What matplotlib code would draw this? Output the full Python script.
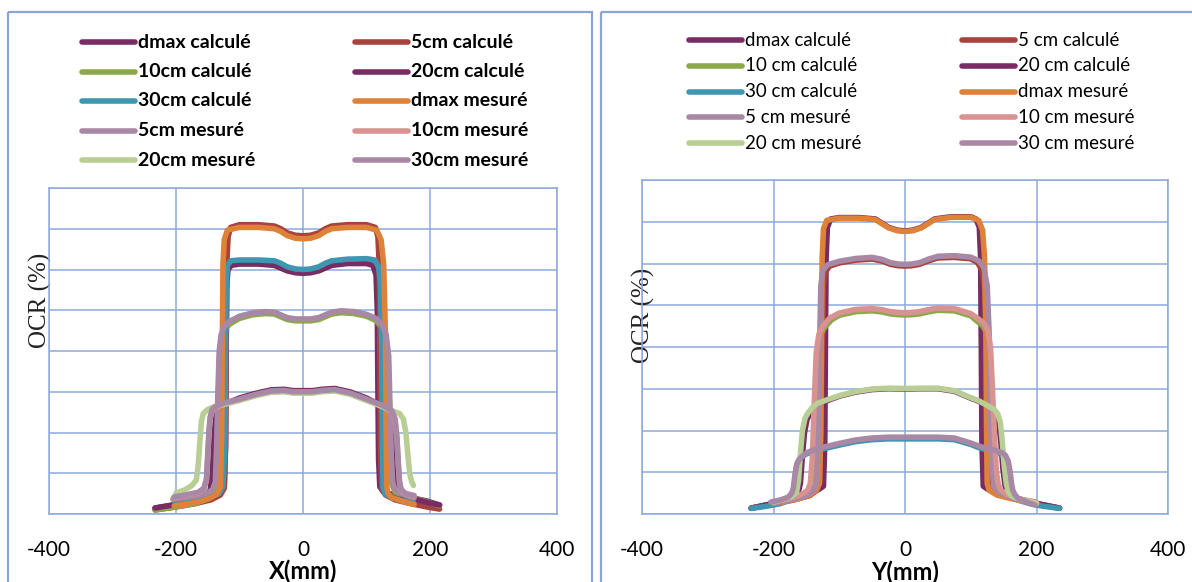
import matplotlib.pyplot as plt
from matplotlib.patches import Rectangle

plt.rcParams['font.family'] = ['Lato', 'DejaVu Sans']

# === Series labels and colours ===
labels_x = ['dmax calculé', '5cm calculé', '10cm calculé', '20cm calculé', '30cm calculé',
            'dmax mesuré', '5cm mesuré', '10cm mesuré', '20cm mesuré', '30cm mesuré']
labels_y = ['dmax calculé', '5 cm calculé', '10 cm calculé', '20 cm calculé', '30 cm calculé',
            'dmax mesuré', '5 cm mesuré', '10 cm mesuré', '20 cm mesuré', '30 cm mesuré']
colors = ['#772C63', '#A8423C', '#8BA84B', '#772C63', '#3E96B0',
          '#DE8139', '#A888A4', '#D89290', '#B8CE94', '#A888A4']

x_ticks = [-400, -200, 0, 200, 400]
y_grid = [0, 15, 30, 45, 60, 75, 90, 105, 120]

# === X profiles (left chart) : position (mm) / OCR (%) ===
lx_dmax_calc = [-233, -200, -170, -145, -130, -124, -122, -121, -120, -118, -113, -100, -70, -45, -35, -25, -12, 0, 12, 25,
                35, 45, 70, 100, 110, 115, 117, 118, 119, 121, 127, 145, 170, 195, 215]
lv_dmax_calc = [2.2, 3.5, 4.5, 6.0, 8.0, 10, 25, 60, 85, 90, 91.5, 92, 92, 91.5, 90.5, 89.5, 88.8, 88.6, 88.8, 89.5,
                90.5, 91.5, 92.2, 92.2, 91.5, 88, 75, 45, 20, 10, 8, 7, 6, 4.8, 3.3]

lx_5_calc = [-233, -200, -170, -145, -130, -124, -122, -121, -120, -118, -114, -100, -70, -45, -35, -25, -12, 0, 12, 25,
             35, 45, 70, 100, 114, 118, 120, 121, 122, 124, 130, 145, 170, 195, 215]
lv_5_calc = [1.5, 2.6, 3.8, 5.2, 7.0, 9.5, 25, 60, 92, 102, 105.5, 106.5, 106.5, 106, 105, 103.5, 102.6, 102.4, 102.6, 103.5,
             105, 106, 106.5, 106.5, 105.5, 102, 92, 60, 25, 9.5, 7.0, 5.2, 3.8, 2.6, 1.8]

lx_10_calc = [-233, -200, -170, -150, -140, -137, -135, -133, -131, -128, -123, -115, -100, -80, -60, -45, -35, -25, -12, 0,
              12, 25, 35, 45, 60, 80, 100, 115, 124, 130, 134, 136, 138, 140, 145, 170, 195, 215]
lv_10_calc = [1.5, 2.6, 3.9, 5.5, 7.5, 11, 25, 45, 60, 65, 68, 70, 72, 73.3, 73.8, 73.6, 72.6, 71.6, 71.1, 71.1,
              71.1, 71.6, 72.6, 73.6, 74.1, 73.8, 72.8, 71.2, 68.7, 65, 57, 40, 22, 11, 8, 6, 4.5, 3.0]

lx_20_calc = [-233, -200, -170, -152, -146, -143, -141, -139, -136, -130, -120, -100, -75, -50, -30, -15, 0, 15, 30, 50,
              75, 100, 120, 135, 140, 143, 145, 147, 150, 160, 180, 200, 215]
lv_20_calc = [2.2, 3.5, 4.8, 6.5, 9, 15, 25, 33, 37.5, 39.4, 40.8, 42.7, 44.4, 45.7, 45.9, 45.4, 45.4, 45.4, 45.9, 46.2,
              44.9, 42.7, 40.3, 38.4, 35, 27, 18, 11, 8.5, 6.5, 5.2, 4.0, 3.3]

lx_30_calc = [-202, -180, -160, -145, -132, -126, -123, -122, -121, -119, -114, -100, -70, -45, -35, -25, -12, 0, 12, 25,
              35, 45, 70, 100, 113, 119, 122, 124, 125, 126, 129, 140, 155, 174]
lv_30_calc = [4.5, 5.0, 5.6, 6.3, 7.5, 10, 25, 60, 85, 91.5, 93.2, 93.5, 93.5, 93.2, 92.3, 91, 90.2, 90.0, 90.2, 91,
              92.3, 93.2, 93.8, 94, 93.5, 91, 85, 60, 25, 10, 7.5, 6.0, 5.0, 4.3]

lx_dmax_mes = [-203, -180, -160, -145, -135, -130, -128, -127, -126, -124, -119, -100, -70, -45, -35, -25, -12, 0, 12, 25,
               35, 45, 70, 100, 116, 123, 127, 130, 131, 132, 134, 140, 155, 175]
lv_dmax_mes = [3.0, 3.8, 4.8, 6.0, 7.5, 10, 30, 65, 92, 101, 104.5, 105.5, 105.5, 105, 104, 102.5, 101.5, 101.3, 101.5, 102.5,
               104, 105, 105.5, 105.5, 104.5, 101, 92, 65, 30, 10, 7.5, 6.0, 4.8, 3.5]

lx_5_mes = [-205, -185, -165, -150, -142, -138, -136, -134, -132, -129, -124, -115, -100, -80, -60, -45, -35, -25, -12, 0,
            12, 25, 35, 45, 60, 80, 100, 115, 125, 131, 135, 137, 139, 141, 144, 150, 160, 175]
lv_5_mes = [5.5, 6.0, 6.8, 7.8, 9, 12, 25, 45, 60, 66, 69, 71, 72.8, 74, 74.5, 74.3, 73.3, 72.3, 71.8, 71.8,
            71.8, 72.3, 73.3, 74.3, 74.8, 74.5, 73.5, 72, 69.5, 66, 58, 40, 22, 12, 9.5, 8, 7, 6]

lx_10_mes = [-203, -185, -165, -156, -152, -150, -148, -146, -143, -138, -125, -100, -75, -50, -30, -15, 0, 15, 30, 50,
             75, 100, 125, 140, 145, 148, 150, 152, 154, 157, 162, 175]
lv_10_mes = [6.0, 6.8, 7.8, 9.3, 12.5, 21, 30, 35.5, 38, 39.2, 40.5, 42, 43.7, 45, 45.2, 44.7, 44.7, 44.7, 45.2, 45.5,
             44.2, 42, 39.7, 37.7, 34.5, 27.5, 18.5, 11.5, 9.2, 8.2, 7.3, 6.6]

lx_20_mes = [-200, -185, -175, -168, -165, -162, -160, -157, -150, -140, -125, -100, -75, -50, -30, -15, 0, 15, 30, 50,
             75, 100, 125, 140, 152, 158, 162, 165, 168, 171, 174]
lv_20_mes = [7.7, 9, 10.5, 12.5, 18, 28, 34, 37, 38.5, 39.5, 40.3, 41.8, 43.5, 44.8, 45.0, 44.5, 44.5, 44.5, 45.0, 45.3,
             44, 41.8, 39.5, 38, 37, 35, 30, 22, 15, 12, 10.5]

lx_30_mes = [-203, -185, -165, -156, -152, -150, -148, -146, -143, -138, -125, -100, -75, -50, -30, -15, 0, 15, 30, 50,
             75, 100, 125, 140, 145, 148, 150, 152, 154, 157, 162, 175]
lv_30_mes = [6.3, 7.0, 8.0, 9.5, 13, 22, 31, 36, 38.5, 39.5, 40.8, 42.3, 44, 45.3, 45.5, 45.0, 45.0, 45.0, 45.5, 45.8,
             44.5, 42.3, 40, 38, 35, 28, 19, 12, 9.5, 8.5, 7.5, 6.8]

# === Y profiles (right chart) ===
rx_dmax_calc = [-234, -200, -170, -145, -130, -124, -122, -121, -120, -118, -113, -100, -70, -45, -35, -25, -12, 0, 12, 25,
                35, 45, 70, 100, 108, 113, 115, 116, 117, 119, 125, 145, 170, 200, 235]
rv_dmax_calc = [2.1, 3.8, 5.5, 7.2, 9.0, 10, 25, 60, 92, 103, 106, 106.5, 106.5, 106, 104.5, 103, 102, 101.7, 102, 103,
                104.5, 106, 106.8, 106.8, 106, 103, 92, 60, 25, 10, 9, 7, 5.3, 3.7, 2.1]

rx_5_calc = [-234, -200, -170, -145, -134, -130, -128, -126, -124, -121, -115, -100, -75, -50, -35, -22, -10, 0, 10, 22,
             35, 50, 75, 100, 110, 117, 121, 124, 126, 128, 132, 145, 170, 200, 235]
rv_5_calc = [2.1, 3.6, 5.0, 6.6, 8.5, 12, 30, 60, 82, 87, 89.0, 90.2, 91.2, 91.6, 90.9, 89.7, 89.2, 89.1, 89.2, 89.7,
             90.9, 92.0, 92.2, 91.7, 90.4, 87.7, 81, 60, 30, 12, 9, 7, 5.3, 3.7, 2.1]

rx_10_calc = [-234, -200, -170, -152, -145, -141, -139, -136, -133, -129, -123, -112, -100, -75, -50, -35, -22, -10, 0, 10,
              22, 35, 50, 75, 100, 109, 118, 124, 128, 131, 134, 137, 140, 145, 170, 200, 235]
rv_10_calc = [2.1, 3.6, 5.2, 6.6, 8.3, 11, 20, 40, 58, 64, 66.8, 69.7, 71.4, 72.7, 73, 72.6, 71.9, 71.6, 71.5, 71.6,
              71.9, 72.6, 73.2, 73, 71.2, 69.4, 67.7, 65.2, 59, 45, 28, 15, 10.5, 7.5, 5.3, 3.7, 2.1]

rx_20_calc = [-234, -200, -175, -163, -159, -156, -153, -149, -144, -137, -130, -115, -99, -75, -50, -25, 0, 25, 50, 75,
              100, 111, 125, 134, 139, 143, 146, 149, 152, 155, 165, 200, 235]
rv_20_calc = [2.1, 3.8, 5.3, 7.3, 11, 21, 29, 34, 36.2, 38.2, 39.5, 41.0, 42.4, 43.8, 44.7, 45.0, 44.9, 45.0, 45.0, 44.1,
              41.6, 40.6, 38.8, 37.3, 35.7, 32, 25, 16, 10.5, 8, 6, 3.8, 2.1]

rx_30_calc = [-234, -210, -190, -176, -171, -168, -166, -163, -158, -150, -130, -99, -75, -50, -25, 0, 25, 50, 75, 100,
              115, 135, 146, 151, 155, 158, 160, 162, 165, 172, 190, 210, 235]
rv_30_calc = [2.0, 2.8, 3.7, 5, 7, 11, 16, 18.8, 20.3, 21.6, 23.1, 24.8, 26, 26.7, 27, 27, 27, 27, 26.7, 25,
              23.6, 22.4, 21.4, 20.3, 18.3, 14.5, 10.5, 8, 6.3, 5.0, 3.7, 2.8, 2.0]

rx_dmax_mes = [-200, -180, -160, -145, -135, -130, -128, -127, -126, -124, -119, -100, -70, -45, -35, -25, -12, 0, 12, 25,
               35, 45, 70, 100, 112, 118, 121, 123, 124, 125, 128, 140, 160, 180, 200]
rv_dmax_mes = [3.8, 4.6, 5.6, 6.8, 8.5, 11, 30, 65, 92, 102.5, 105.5, 106.3, 106.3, 105.8, 104.3, 102.8, 101.8, 101.5, 101.8, 102.8,
               104.3, 105.8, 106.6, 106.6, 105.5, 102, 92, 65, 30, 11, 8.5, 6.8, 5.6, 4.6, 3.8]

rx_5_mes = [-200, -180, -160, -145, -138, -134, -132, -130, -128, -125, -118, -100, -75, -50, -35, -22, -10, 0, 10, 22,
            35, 50, 75, 100, 112, 120, 125, 128, 130, 132, 135, 142, 160, 180, 200]
rv_5_mes = [4.0, 4.8, 5.8, 7.2, 8.8, 12, 30, 60, 82, 87.5, 89.5, 90.8, 91.8, 92.2, 91.5, 90.3, 89.8, 89.7, 89.8, 90.3,
            91.5, 92.6, 92.8, 92.3, 91, 88.5, 82, 65, 40, 18, 10, 8, 6, 4.8, 4.0]

rx_10_mes = [-200, -180, -165, -155, -148, -144, -141, -138, -135, -131, -125, -114, -100, -75, -50, -35, -22, -10, 0, 10,
             22, 35, 50, 75, 100, 111, 120, 126, 130, 133, 136, 139, 142, 146, 155, 175, 200]
rv_10_mes = [4.3, 5.3, 6.3, 7.3, 8.6, 11, 20, 40, 58, 64.5, 67.5, 70.5, 72.2, 73.5, 73.8, 73.4, 72.7, 72.4, 72.3, 72.4,
             72.7, 73.4, 74, 73.8, 72, 70.2, 68.5, 66, 60, 45, 28, 15, 10.5, 8.5, 7, 5.3, 4.3]

rx_20_mes = [-200, -185, -172, -165, -162, -159, -156, -152, -147, -140, -133, -115, -99, -75, -50, -25, 0, 25, 50, 75,
             100, 111, 125, 136, 141, 145, 148, 151, 154, 157, 162, 175, 200]
rv_20_mes = [4.3, 5.2, 6.3, 7.8, 12, 22, 30, 34.5, 36.5, 38.5, 39.8, 41.3, 42.6, 44, 44.9, 45.2, 45.1, 45.2, 45.2, 44.3,
             41.8, 40.8, 39, 37.5, 36, 33, 26, 17, 11, 8, 6.5, 5.2, 3.8]

rx_30_mes = [-204, -190, -178, -173, -170, -168, -165, -161, -155, -148, -130, -99, -75, -50, -25, 0, 25, 50, 75, 100,
             115, 135, 148, 153, 157, 160, 162, 164, 167, 172, 185, 198]
rv_30_mes = [4.3, 5.0, 6.0, 7.3, 9, 13, 17.5, 19.6, 21, 22.2, 23.7, 25.4, 26.6, 27.3, 27.6, 27.6, 27.6, 27.6, 27.3, 25.5,
             24.2, 23, 22, 21, 19, 15, 11, 8.5, 7, 5.6, 4.3, 3.2]

left_series = [(lx_dmax_calc, lv_dmax_calc), (lx_5_calc, lv_5_calc), (lx_10_calc, lv_10_calc),
               (lx_20_calc, lv_20_calc), (lx_30_calc, lv_30_calc), (lx_dmax_mes, lv_dmax_mes),
               (lx_5_mes, lv_5_mes), (lx_10_mes, lv_10_mes), (lx_20_mes, lv_20_mes), (lx_30_mes, lv_30_mes)]
right_series = [(rx_dmax_calc, rv_dmax_calc), (rx_5_calc, rv_5_calc), (rx_10_calc, rv_10_calc),
                (rx_20_calc, rv_20_calc), (rx_30_calc, rv_30_calc), (rx_dmax_mes, rv_dmax_mes),
                (rx_5_mes, rv_5_mes), (rx_10_mes, rv_10_mes), (rx_20_mes, rv_20_mes), (rx_30_mes, rv_30_mes)]

# === Figure, in pixel units ===
W, H = 1192, 582
GRID = '#8EA9DB'
fig = plt.figure(figsize=(W / 100, H / 100), dpi=100)

overlay = fig.add_axes([0, 0, 1, 1], zorder=0)
overlay.set_xlim(0, W)
overlay.set_ylim(H, 0)
overlay.axis('off')
overlay.add_patch(Rectangle((8, 12), 584, 620, fill=False, edgecolor='#8AA4D6', lw=1.6, clip_on=False))
overlay.add_patch(Rectangle((601, 12), 640, 620, fill=False, edgecolor='#8AA4D6', lw=1.6, clip_on=False))


def draw_legend(labels, col_x, row_y, row_step, weight, size):
    for i, lab in enumerate(labels):
        row, col = divmod(i, 2)
        x0 = col_x[col]
        y = row_y + row * row_step
        overlay.plot([x0, x0 + 53], [y, y], color=colors[i], lw=4.0, solid_capstyle='round')
        overlay.text(x0 + 56, y, lab, ha='left', va='center', fontsize=size, fontweight=weight)


def draw_panel(rect, series, xlabel, ylab_xy):
    ax = fig.add_axes(rect, zorder=1)
    for (xs, ys), c in zip(series, colors):
        ax.plot(xs, ys, color=c, lw=4.0, solid_joinstyle='round', solid_capstyle='round')
    ax.set_xlim(-400, 400)
    ax.set_ylim(0, 120)
    ax.set_xticks(x_ticks)
    ax.set_xticklabels([str(t) for t in x_ticks])
    ax.set_yticks(y_grid)
    ax.grid(True, color=GRID, lw=1.1)
    ax.set_axisbelow(True)
    for s in ax.spines.values():
        s.set_color(GRID)
        s.set_linewidth(1.1)
    ax.tick_params(axis='x', length=0, pad=19, labelsize=15)
    ax.tick_params(axis='y', length=0, labelleft=False)
    ax.set_xlabel(xlabel, fontsize=17, fontweight='bold', va='center')
    ax.xaxis.set_label_coords(0.5, -0.175)
    ax.set_ylabel('OCR (%)', fontsize=18, family='Liberation Serif', va='center', color='#222222')
    ax.yaxis.set_label_coords(*ylab_xy)
    return ax


draw_panel([49 / W, (H - 514) / H, 508 / W, 326 / H], left_series, 'X(mm)', (-9 / 508, 214 / 326))
draw_panel([642 / W, (H - 514) / H, 526 / W, 334 / H], right_series, 'Y(mm)', (1 / 526, 199 / 334))

draw_legend(labels_x, [82, 355], 42, 29.5, 'bold', 14)
draw_legend(labels_y, [689, 962], 40, 25.8, 'normal', 13.5)

fig.savefig('out.png', dpi=100)
